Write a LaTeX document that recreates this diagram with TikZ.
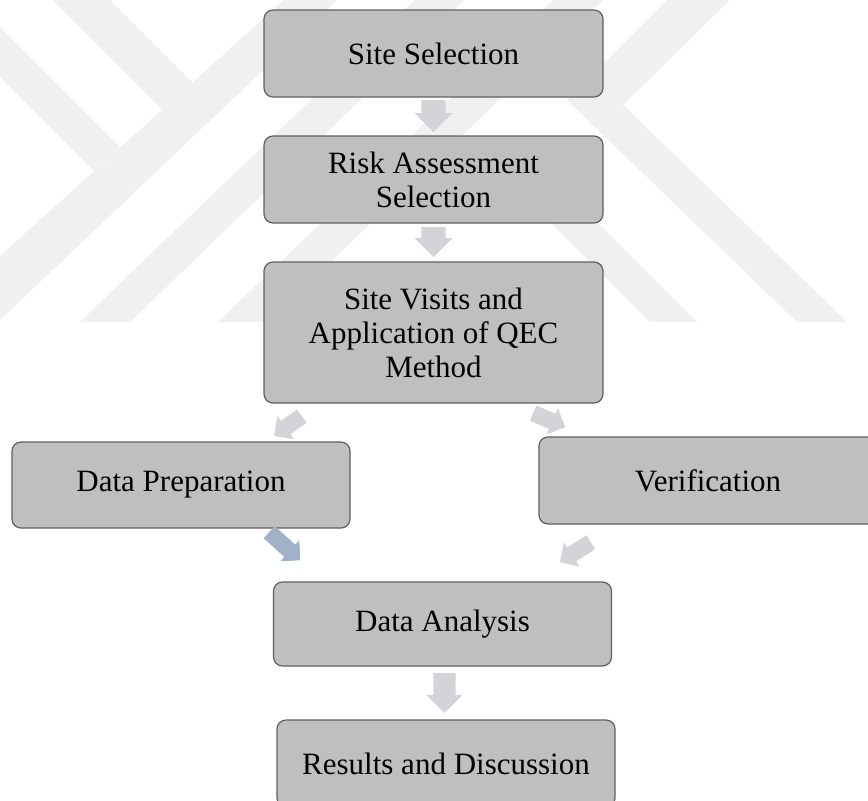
\documentclass[tikz,border=0pt]{standalone}
\usepackage{fontspec}
\setmainfont{Liberation Serif}
\definecolor{fcbox}{RGB}{191,191,191}
\definecolor{fcedge}{RGB}{96,96,96}
\definecolor{fcarrow}{RGB}{210,212,216}
\definecolor{fcblue}{RGB}{160,178,200}
\definecolor{fcmark}{RGB}{240,240,240}
\usetikzlibrary{shapes.arrows,positioning}

\begin{document}
\begin{tikzpicture}[x=1pt,y=-1pt,
  stepbox/.style={draw=fcedge,fill=fcbox,line width=1.2pt,rounded corners=9pt,
    minimum width=338pt,minimum height=87pt,align=center,inner sep=0pt,
    font=\fontsize{31}{34}\selectfont},
  blockarr/.style={single arrow,fill=fcarrow,draw=none,inner xsep=0pt,
    inner ysep=12pt,single arrow head extend=7pt,pos=0,sloped,allow upside down,anchor=tail},
  smallarr/.style={blockarr,inner ysep=8pt,single arrow head extend=6pt}]
  \useasboundingbox[fill=white] (0,0) rectangle (868,801);

  \begin{scope}
    \clip (0,0) rectangle (868,322);
    \fill[fcmark] (0,27) -- (120,147) -- (94,171) -- (0,77) -- cycle;
    \fill[fcmark] (53,0) -- (110,0) -- (193,83) -- (163,110) -- cycle;
    \fill[fcmark] (0,256) -- (284,0) -- (337,0) -- (0,320) -- cycle;
    \fill[fcmark] (80,322) -- (415,0) -- (464,0) -- (130,322) -- cycle;
    \fill[fcmark] (218,322) -- (553,0) -- (603,0) -- (268,322) -- cycle;
    \fill[fcmark] (667,0) -- (730,0) -- (623,105) -- (847,322) -- (797,322) -- (567,100) -- cycle;
    \fill[fcmark] (650,322) -- (697,322) -- (540,165) -- (493,165) -- cycle;
  \end{scope}

  \node[stepbox,minimum width=339pt] (site) at (433.5,53.5) {Site Selection};
  \node[stepbox,minimum width=339pt] (risk) at (433.5,179.5) {Risk Assessment\\Selection};
  \node[stepbox,minimum width=339pt,minimum height=141pt] (visits) at (433.5,332.5)
    {Site Visits and\\Application of QEC\\Method};
  \node[stepbox,minimum height=86pt] (prep) at (181,485) {Data Preparation};
  \node[stepbox] (verif) at (708,480.5) {Verification};
  \node[stepbox,minimum height=84pt] (analysis) at (442.5,624) {Data Analysis};
  \node[stepbox] (results) at (446,763.5) {Results and Discussion};

  \coordinate (t1) at (433.5,100);  \coordinate (h1) at (433.5,132);
  \coordinate (t2) at (433.5,227);  \coordinate (h2) at (433.5,257);
  \coordinate (t3) at (302,416);    \coordinate (h3) at (274,436);
  \coordinate (t4) at (533,413);    \coordinate (h4) at (565,427);
  \coordinate (t5) at (269,532);    \coordinate (h5) at (300,560);
  \coordinate (t6) at (591,542);    \coordinate (h6) at (560,562);
  \coordinate (t7) at (444.5,673);  \coordinate (h7) at (444.5,713);

  \path (t1) -- (h1) node[blockarr,minimum height=32pt] (a1) {};
  \path (t2) -- (h2) node[blockarr,minimum height=30pt] (a2) {};
  \path (t3) -- (h3) node[smallarr,minimum height=34pt] (a3) {};
  \path (t4) -- (h4) node[smallarr,minimum height=35pt] (a4) {};
  \path (t5) -- (h5) node[smallarr,fill=fcblue,minimum height=42pt] (a5) {};
  \path (t6) -- (h6) node[smallarr,minimum height=37pt] (a6) {};
  \path (t7) -- (h7) node[blockarr,inner ysep=11pt,minimum height=40pt] (a7) {};
\end{tikzpicture}
\end{document}
